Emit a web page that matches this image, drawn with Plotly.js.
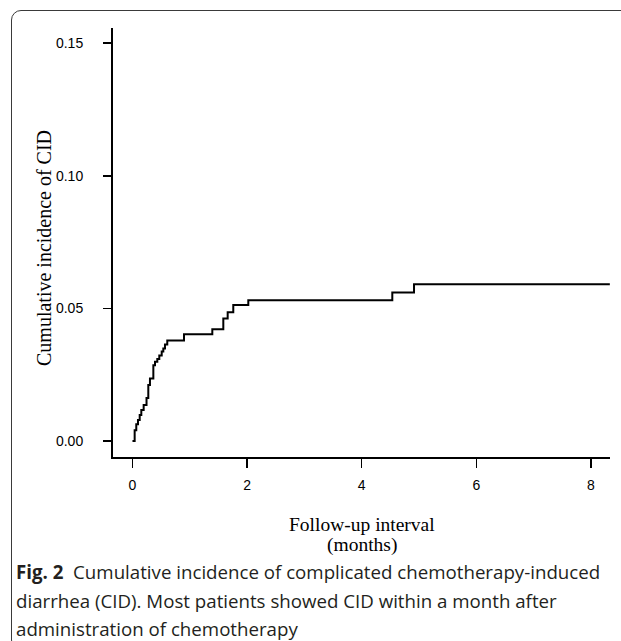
<!DOCTYPE html>
<html>
<head>
<meta charset="utf-8">
<script src="https://cdn.plot.ly/plotly-3.0.1.min.js"></script>
<style>
  html, body { margin: 0; padding: 0; background: #fff; overflow: hidden; }
  #wrap { position: relative; width: 621px; height: 641px; overflow: hidden; }
  #frame { position: absolute; left: 11px; top: 10px; width: 640px; height: 640px;
           border: 1.3px solid #3a3a3a; border-radius: 10px; box-sizing: border-box; }
  #chart { position: absolute; left: 0; top: 0; width: 621px; height: 641px; }
</style>
</head>
<body>
<div id="wrap">
  <div id="frame"></div>
  <div id="chart"></div>
</div>
<script>
// Follow-up time (months) at each step of the cumulative incidence curve
const months = [0, 0.038, 0.066, 0.096, 0.126, 0.154, 0.195, 0.245, 0.276, 0.305, 0.364, 0.393, 0.433, 0.468, 0.510, 0.538, 0.567, 0.607, 0.899, 1.393, 1.585, 1.661, 1.759, 2.021, 4.534, 4.913, 8.33];
// Cumulative incidence of CID after each step
const cumIncidence = [0, 0.0041, 0.0063, 0.0079, 0.0098, 0.0117, 0.0136, 0.0162, 0.0211, 0.0236, 0.0286, 0.0299, 0.0309, 0.0322, 0.0337, 0.0349, 0.0364, 0.0379, 0.0402, 0.0421, 0.0462, 0.0485, 0.0513, 0.0531, 0.0560, 0.0591, 0.0591];

const xTicks = [0, 2, 4, 6, 8];
const yTicks = [0, 0.05, 0.10, 0.15];
const yTickText = ['0.00', '0.05', '0.10', '0.15'];

const xTitleLines = ['Follow-up interval', '(months)'];
const yTitle = 'Cumulative incidence of CID';
const captionLines = [
  '<b>Fig. 2</b>  Cumulative incidence of complicated chemotherapy-induced',
  'diarrhea (CID). Most patients showed CID within a month after',
  'administration of chemotherapy'
];

// layout geometry (pixels)
const W = 621, H = 641;
const M = { l: 113, r: 11, t: 28, b: 184 };
const PW = W - M.l - M.r, PH = H - M.t - M.b;
const px2x = p => (p - M.l) / PW;
const py2y = p => (H - M.b - p) / PH;

const serif = 'Liberation Serif, Times New Roman, serif';

const trace = {
  x: months,
  y: cumIncidence,
  type: 'scatter',
  mode: 'lines',
  line: { shape: 'hv', color: '#000', width: 2 },
  hoverinfo: 'skip'
};

const annotations = [
  { text: yTitle, textangle: -90, x: px2x(44), y: py2y(248), xref: 'paper', yref: 'paper',
    showarrow: false, xanchor: 'center', yanchor: 'middle',
    font: { family: serif, size: 20, color: '#000' } }
];
const xTitleY = [524, 545];
xTitleLines.forEach((t, i) => {
  annotations.push({ text: t, x: 0.5, y: py2y(xTitleY[i]), xref: 'paper', yref: 'paper',
    showarrow: false, xanchor: 'center', yanchor: 'middle', borderpad: 0,
    font: { family: serif, size: 19.5, color: '#000' } });
});
const capY = [571, 600, 628];
captionLines.forEach((t, i) => {
  annotations.push({ text: t, x: px2x(15), y: py2y(capY[i]), xref: 'paper', yref: 'paper',
    showarrow: false, xanchor: 'left', yanchor: 'middle', align: 'left', borderpad: 0,
    font: { family: 'Open Sans, Noto Sans, sans-serif', size: 18.7, color: '#231f20' } });
});

const layout = {
  width: W, height: H,
  margin: M,
  paper_bgcolor: 'rgba(0,0,0,0)',
  plot_bgcolor: 'rgba(0,0,0,0)',
  showlegend: false,
  xaxis: {
    range: [-0.34, 8.333],
    tickvals: xTicks,
    ticks: 'outside', ticklen: 9, tickwidth: 1.5, tickcolor: '#000',
    ticklabelstandoff: 5,
    showline: true, linecolor: '#000', linewidth: 2,
    showgrid: false, zeroline: false,
    tickfont: { family: 'Liberation Sans, Arial, sans-serif', size: 14, color: '#000' }
  },
  yaxis: {
    range: [-0.00603, 0.1557],
    tickvals: yTicks, ticktext: yTickText,
    ticks: 'outside', ticklen: 8, tickwidth: 1.5, tickcolor: '#000',
    ticklabelstandoff: 17,
    showline: true, linecolor: '#000', linewidth: 2,
    showgrid: false, zeroline: false,
    tickfont: { family: 'Liberation Sans, Arial, sans-serif', size: 14, color: '#000' }
  },
  annotations: annotations
};

Plotly.newPlot('chart', [trace], layout, { displayModeBar: false, staticPlot: true });
</script>
</body>
</html>
